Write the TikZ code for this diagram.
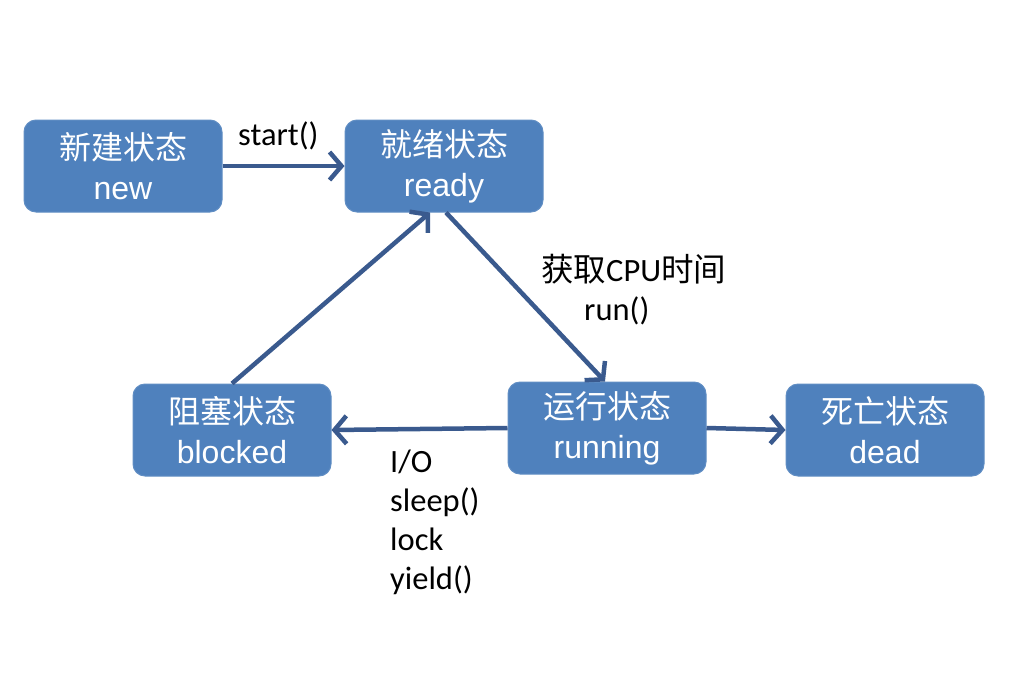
\documentclass[tikz,border=0pt]{standalone}
\usepackage{fontspec}
\setmainfont{Liberation Sans}
\newfontfamily\cjk{Noto Sans CJK SC}
\newfontfamily\lbl{Carlito}
\usetikzlibrary{arrows.meta,calc}
\definecolor{boxblue}{HTML}{4F81BD}
\definecolor{arrowblue}{HTML}{3A5A8E}
\tikzset{
  state/.style={draw=boxblue!90!white, line width=1pt, fill=boxblue, rounded corners=12pt,
    minimum width=198pt, minimum height=92pt, inner sep=0pt, text=white, align=center,
    font=\fontsize{32}{40}\selectfont},
  conn/.style={draw=arrowblue, line width=4.5pt, -{Straight Barb[length=12pt,width=28pt,line width=4.5pt]}},
  lab/.style={anchor=base west, inner sep=0pt, font=\lbl\fontsize{32.5}{38}\selectfont}
}
\begin{document}
\begin{tikzpicture}[x=1pt,y=-1pt]
\useasboundingbox (0,0) rectangle (1031,678);
\node[state] (new) at (123,166) {{\cjk 新建状态}\\new};
\node[state] (ready) at (444,166) {{\cjk 就绪状态}\\ready};
\node[state] (blocked) at (232,430) {{\cjk 阻塞状态}\\blocked};
\node[state] (running) at (607,428) {{\cjk 运行状态}\\running};
\node[state] (dead) at (885,430) {{\cjk 死亡状态}\\dead};
\draw[conn] (new.east) -- (ready.west);
\draw[conn] ([xshift=2pt]ready.south) -- ([xshift=-2pt]running.north);
\draw[conn] (blocked.north) -- ([xshift=-14pt]ready.south);
\draw[conn] (running.west) -- (blocked.east);
\draw[conn] (running.east) -- (dead.west);
\node[lab] (lstart) at (238,145) {start()};
\node[lab] (lcpu) at (541,281) {{\cjk 获取}CPU{\cjk 时间}};
\node[lab] (lrun) at (584,320) {run()};
\node[lab] (lio) at (390,472) {I/O};
\node[lab] (lsleep) at (390,511) {sleep()};
\node[lab] (llock) at (390,550) {lock};
\node[lab] (lyield) at (390,589) {yield()};
\end{tikzpicture}
\end{document}
